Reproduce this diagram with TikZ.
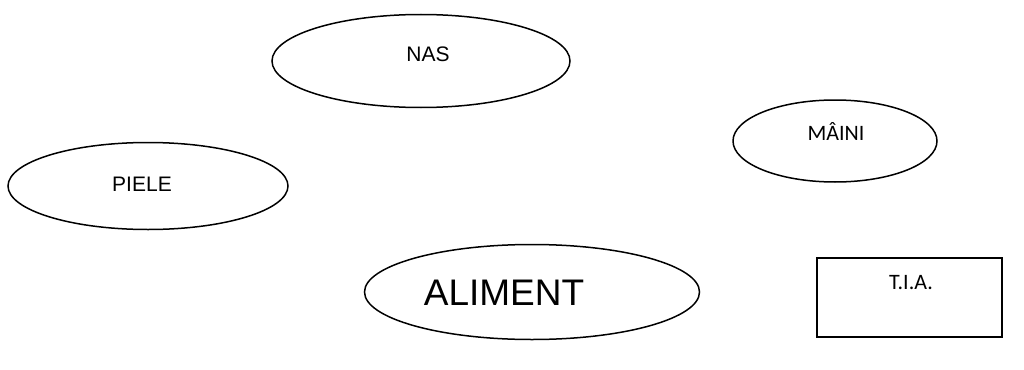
\documentclass[tikz,border=0pt]{standalone}
\usepackage{fontspec}
\setmainfont{Liberation Sans}
\newfontfamily\calib{Carlito}
\usetikzlibrary{shapes.geometric}
\begin{document}
\begin{tikzpicture}[x=1pt,y=-1pt,
  ell/.style={draw=black, line width=1.5pt, ellipse, inner sep=0pt},
  lbl/.style={inner sep=0pt, anchor=center}]
\useasboundingbox (0,0) rectangle (1024,369);
\node[ell, minimum width=298pt, minimum height=93pt] (nas) at (421,61) {};
\node[lbl, font=\fontsize{21}{21}\selectfont] (nast) at (428,54) {NAS};
\node[ell, minimum width=204pt, minimum height=82pt] (maini) at (835,141) {};
\node[lbl, font=\calib\fontsize{22}{22}\selectfont] (mainit) at (836,131) {MÂINI};
\node[ell, minimum width=280pt, minimum height=87pt] (piele) at (148,186) {};
\node[lbl, font=\fontsize{21}{21}\selectfont] (pielet) at (142,184) {PIELE};
\node[ell, minimum width=335pt, minimum height=95pt] (aliment) at (532,292) {};
\node[lbl, font=\fontsize{37}{37}\selectfont] (alimentt) at (504,293) {ALIMENT};
\node[draw=black, line width=1.5pt, minimum width=185pt, minimum height=79pt, inner sep=0pt] (tia) at (909.5,297.5) {};
\node[lbl, font=\calib\fontsize{22}{22}\selectfont] (tiat) at (911,283) {T.I.A.};
\end{tikzpicture}
\end{document}
